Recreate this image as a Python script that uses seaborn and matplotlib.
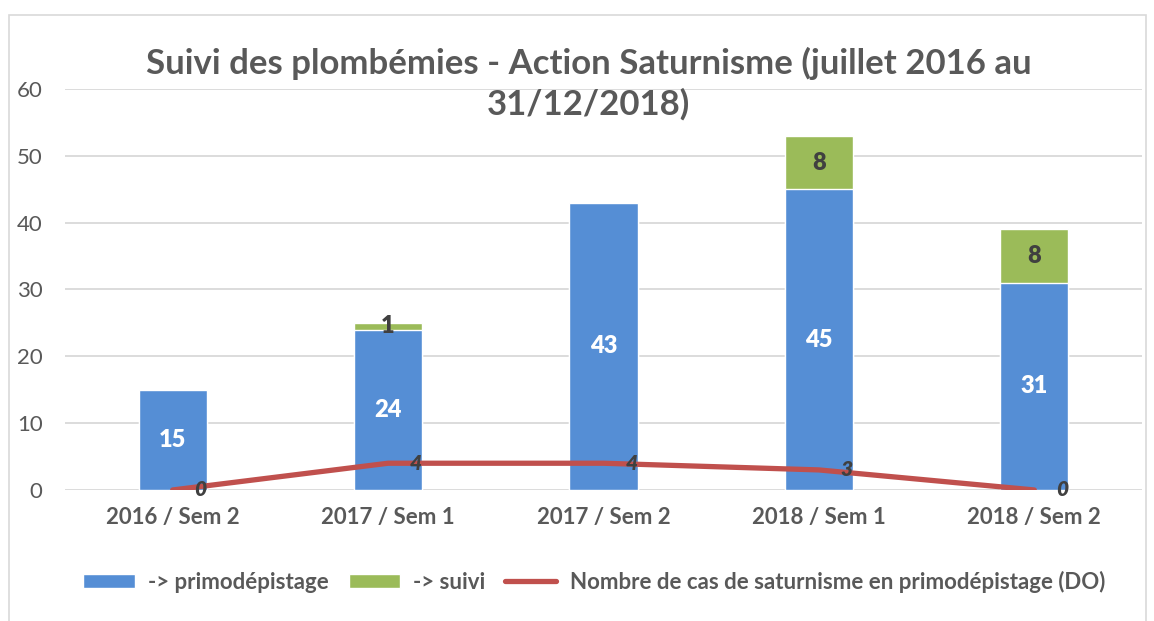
import pandas as pd
import matplotlib.pyplot as plt
import seaborn as sns
from matplotlib.patches import Rectangle
from matplotlib.lines import Line2D
from matplotlib.patches import Patch

periods = ["2016 / Sem 2", "2017 / Sem 1", "2017 / Sem 2", "2018 / Sem 1", "2018 / Sem 2"]
primo = [15, 24, 43, 45, 31]
suivi = [0, 1, 0, 8, 8]
cas_do = [0, 4, 4, 3, 0]

BLUE = "#558ED5"
GREEN = "#9BBB59"
RED = "#C0504D"
GREY = "#595959"
DARK = "#404040"

sns.set_theme(style="white")
plt.rcParams['font.family'] = ['Lato', 'DejaVu Sans']

df = pd.DataFrame({"periode": periods, "primo": primo, "suivi": suivi, "do": cas_do})
df["total"] = df["primo"] + df["suivi"]

fig = plt.figure(figsize=(11.54, 6.21), dpi=100)
ax = fig.add_axes([0.0563, 0.211, 0.9333, 0.6457])

# chart border like the office frame
fig.patches.append(Rectangle((9 / 1154, -0.05), 1137 / 1154, 1.05 - 15 / 621,
                             transform=fig.transFigure, fill=False,
                             edgecolor="#D9D9D9", linewidth=1.2))

sns.barplot(data=df, x="periode", y="total", color=GREEN, width=0.316,
            saturation=1, ax=ax, zorder=2)
sns.barplot(data=df, x="periode", y="primo", color=BLUE, width=0.316,
            saturation=1, ax=ax, zorder=3)
ax.plot(range(len(periods)), df["do"], color=RED, linewidth=3.8,
        solid_capstyle="round", solid_joinstyle="round", zorder=4)

# labels
for i, row in df.iterrows():
    ax.text(i, row["primo"] / 2, str(row["primo"]), ha="center", va="center",
            color="white", fontsize=17, fontweight="heavy", zorder=5)
    if row["suivi"] > 0:
        ax.text(i, row["primo"] + row["suivi"] / 2, str(row["suivi"]), ha="center",
                va="center", color=DARK, fontsize=17, fontweight="heavy", zorder=5)
    ax.text(i + 0.13, row["do"], str(row["do"]), ha="center", va="center",
            color=DARK, fontsize=15, fontweight="heavy", fontstyle="italic", zorder=5)

ax.set_ylim(0, 60)
ax.set_xlim(-0.5, 4.5)
ax.set_yticks(range(0, 61, 10))
ax.yaxis.grid(True, color="#D9D9D9", linewidth=1.3, zorder=0)
ax.set_axisbelow(True)
for s in ax.spines.values():
    s.set_visible(False)
ax.set_xlabel("")
ax.set_ylabel("")
ax.tick_params(axis="y", labelsize=16, colors=GREY, length=0, pad=16)
ax.tick_params(axis="x", labelsize=16, colors=GREY, length=0, pad=12)
for lab in ax.get_xticklabels():
    lab.set_fontweight("bold")

fig.text(0.51, 0.806, "Suivi des plombémies - Action Saturnisme (juillet 2016 au\n31/12/2018)",
         ha="center", va="bottom", fontsize=25, fontweight="bold", color=GREY,
         linespacing=1.3)

handles = [Patch(facecolor=BLUE, label="-> primodépistage"),
           Patch(facecolor=GREEN, label="-> suivi"),
           Line2D([0], [0], color=RED, linewidth=3.8, solid_capstyle="round",
                  label="Nombre de cas de saturnisme en primodépistage (DO)")]
leg = fig.legend(handles=handles, loc="center", bbox_to_anchor=(0.515, 0.063), ncol=3,
                 frameon=False, fontsize=16, handlelength=2.3, handleheight=0.6,
                 columnspacing=0.9, handletextpad=0.6)
for t in leg.get_texts():
    t.set_color(GREY)
    t.set_fontweight("bold")

fig.savefig("out.png", dpi=100)
